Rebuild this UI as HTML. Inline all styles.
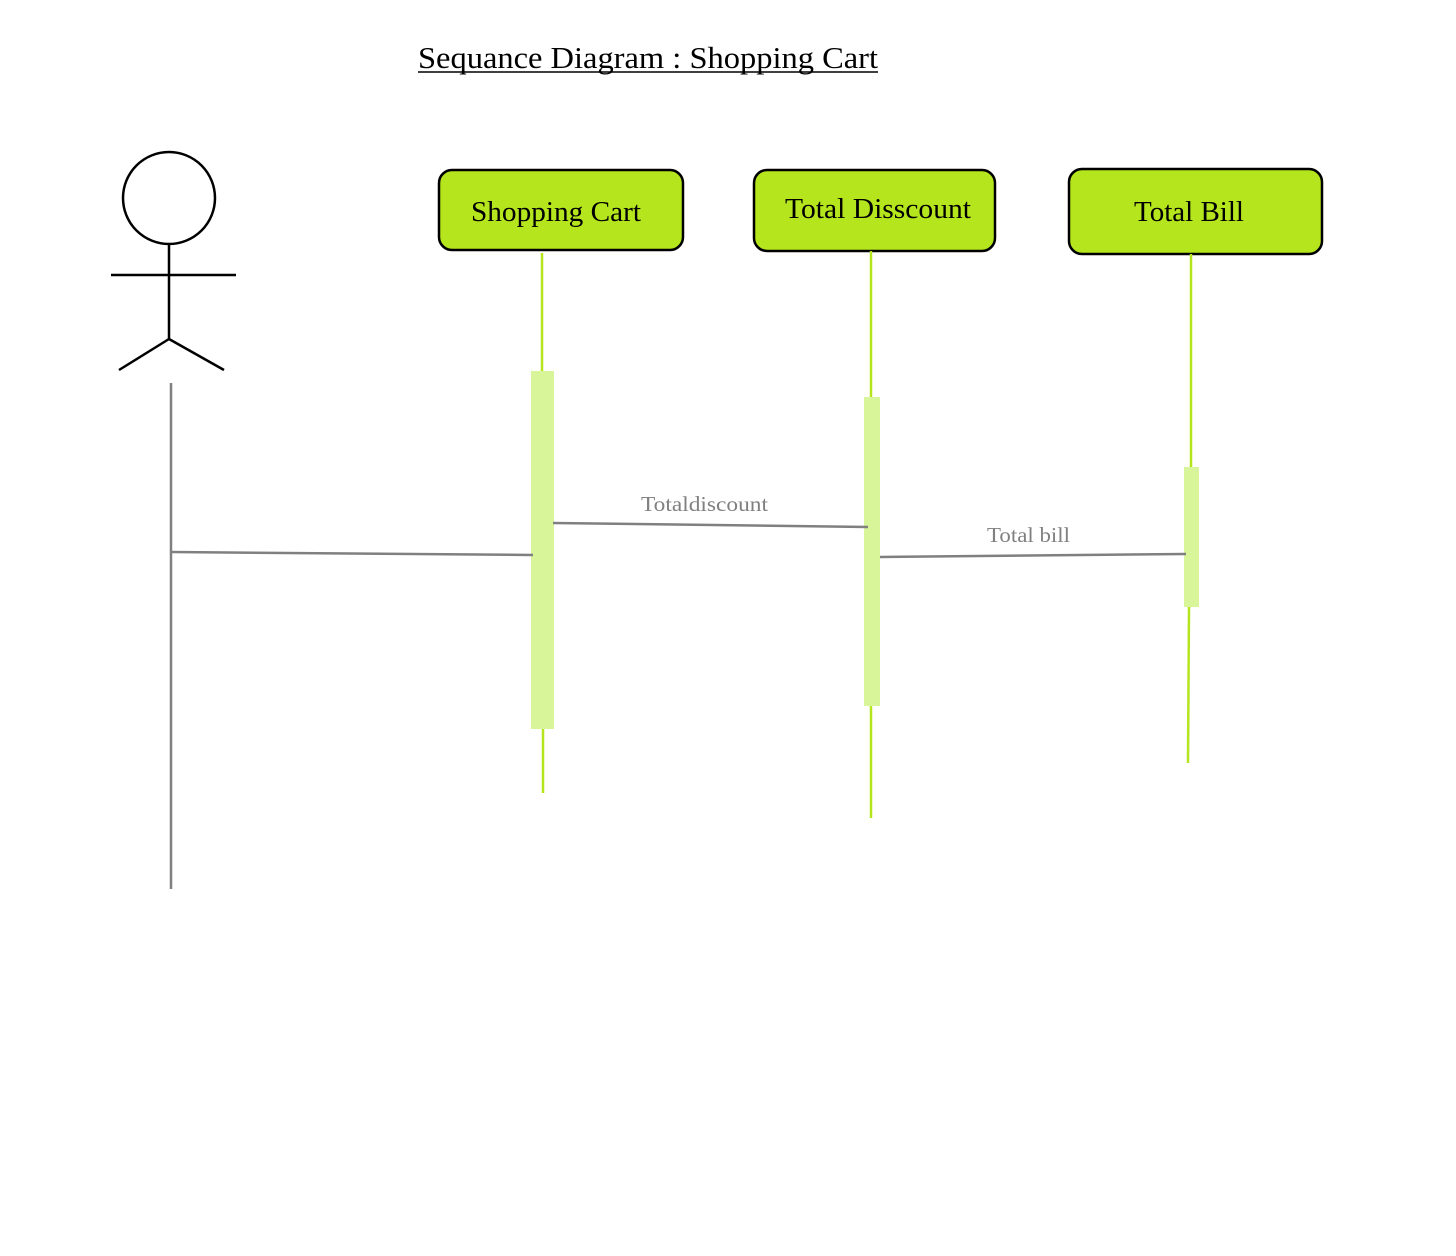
<!DOCTYPE html>
<html><head><meta charset="utf-8"><style>
html,body{margin:0;padding:0;background:#fff;width:1456px;height:1256px;overflow:hidden}
</style></head><body>
<svg width="1456" height="1256" xmlns="http://www.w3.org/2000/svg" style="font-family:'Liberation Serif',serif">
<text x="418" y="68" font-size="31" fill="#000" textLength="460" lengthAdjust="spacingAndGlyphs">Sequance Diagram : Shopping Cart</text>
<line x1="418" y1="72" x2="878" y2="72" stroke="#000" stroke-width="1.5"/>
<circle cx="169" cy="198" r="46" fill="none" stroke="#000" stroke-width="2.5"/>
<line x1="169" y1="244" x2="169" y2="339" stroke="#000" stroke-width="2.5"/>
<line x1="111" y1="275" x2="236" y2="275" stroke="#000" stroke-width="2.5"/>
<line x1="169" y1="339" x2="119" y2="370" stroke="#000" stroke-width="2.5"/>
<line x1="169" y1="339" x2="224" y2="370" stroke="#000" stroke-width="2.5"/>
<line x1="171" y1="383" x2="171" y2="889" stroke="#808080" stroke-width="2.5"/>
<rect x="439" y="170" width="244" height="80" rx="13" fill="#b5e61d" stroke="#000" stroke-width="2.5"/>
<text x="471" y="221" font-size="29" textLength="170" lengthAdjust="spacingAndGlyphs">Shopping Cart</text>
<rect x="754" y="170" width="241" height="81" rx="13" fill="#b5e61d" stroke="#000" stroke-width="2.5"/>
<text x="785" y="218" font-size="29" textLength="186" lengthAdjust="spacingAndGlyphs">Total Disscount</text>
<rect x="1069" y="169" width="253" height="85" rx="13" fill="#b5e61d" stroke="#000" stroke-width="2.5"/>
<text x="1134" y="221" font-size="29" textLength="110" lengthAdjust="spacingAndGlyphs">Total Bill</text>
<g stroke="#b5e61d" stroke-width="2.5">
<line x1="542" y1="253" x2="542" y2="372"/>
<line x1="543" y1="729" x2="543" y2="793"/>
<line x1="871" y1="251" x2="871" y2="397"/>
<line x1="871" y1="706" x2="871" y2="818"/>
<line x1="1191" y1="254" x2="1191" y2="467"/>
<line x1="1189" y1="607" x2="1188" y2="763"/>
</g>
<rect x="531" y="371" width="23" height="358" fill="#d8f59a"/>
<rect x="864" y="397" width="16" height="309" fill="#d8f59a"/>
<rect x="1184" y="467" width="15" height="140" fill="#d8f59a"/>
<g stroke="#808080" stroke-width="2.5">
<line x1="171" y1="552" x2="533" y2="555"/>
<line x1="553" y1="523" x2="868" y2="527"/>
<line x1="880" y1="557" x2="1186" y2="554"/>
</g>
<text x="641" y="511" font-size="21" fill="#808080" textLength="127" lengthAdjust="spacingAndGlyphs">Totaldiscount</text>
<text x="987" y="542" font-size="21" fill="#808080" textLength="83" lengthAdjust="spacingAndGlyphs">Total bill</text>
</svg>
</body></html>
